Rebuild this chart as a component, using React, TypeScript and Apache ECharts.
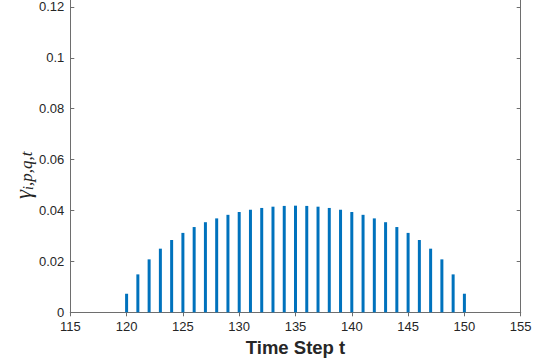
import React, { useEffect, useRef } from "react";
import * as echarts from "echarts";

const timeSteps = [120, 121, 122, 123, 124, 125, 126, 127, 128, 129, 130, 131, 132, 133, 134, 135, 136, 137, 138, 139, 140, 141, 142, 143, 144, 145, 146, 147, 148, 149, 150];
const gammaValues = [0.0073, 0.0149, 0.0208, 0.025, 0.0284, 0.0312, 0.0335, 0.0354, 0.0369, 0.0383, 0.0394, 0.0403, 0.041, 0.0415, 0.0418, 0.0419, 0.0418, 0.0415, 0.041, 0.0403, 0.0394, 0.0383, 0.0369, 0.0354, 0.0335, 0.0312, 0.0284, 0.025, 0.0208, 0.0149, 0.0073];
const xTicks = { min: 115, max: 155, step: 5 };
const yTicks = { min: 0, max: 0.1233, step: 0.02 };
const xLabel = "Time Step t";

const LINE = "#6e6e6e";
const TEXT = "#262626";
const FONT = "'Liberation Sans', Arial, Helvetica, sans-serif";
const SERIF = "'Liberation Serif', 'DejaVu Serif', serif";

export default function App() {
  const ref = useRef<HTMLDivElement>(null);
  useEffect(() => {
    if (!ref.current) return;
    const chart = echarts.init(ref.current, null, { renderer: "svg" });
    const yFmt = (v: number) => {
      const k = Math.round(v / yTicks.step);
      if (Math.abs(k * yTicks.step - v) > 1e-9) return "";
      return String(parseFloat((k * yTicks.step).toFixed(2)));
    };
    const common = {
      axisLine: { show: true, lineStyle: { color: LINE, width: 1 } },
      axisTick: { show: true, inside: true, length: 4, lineStyle: { color: LINE, width: 1 } },
      splitLine: { show: false },
    };
    chart.setOption({
      animation: false,
      backgroundColor: "#ffffff",
      grid: { left: 70.3, right: 16.3, top: -1.5, bottom: 51.7, outerBoundsMode: "none", containLabel: false },
      xAxis: [
        {
          type: "value",
          min: xTicks.min,
          max: xTicks.max,
          interval: xTicks.step,
          position: "bottom",
          ...common,
          axisLabel: { color: TEXT, fontSize: 13, fontFamily: FONT, margin: 8 },
          name: xLabel,
          nameLocation: "middle",
          nameGap: 24,
          nameTextStyle: { color: TEXT, fontSize: 18.5, fontWeight: "bold", fontFamily: FONT },
        },
        {
          type: "value",
          min: xTicks.min,
          max: xTicks.max,
          interval: xTicks.step,
          position: "top",
          ...common,
          axisLabel: { show: false },
        },
      ],
      yAxis: [
        {
          type: "value",
          min: yTicks.min,
          max: yTicks.max,
          interval: yTicks.step,
          position: "left",
          ...common,
          axisLabel: { color: TEXT, fontSize: 13, fontFamily: FONT, margin: 6, formatter: yFmt, showMaxLabel: false },
        },
        {
          type: "value",
          min: yTicks.min,
          max: yTicks.max,
          interval: yTicks.step,
          position: "right",
          ...common,
          axisLabel: { show: false },
        },
      ],
      series: [
        {
          type: "bar",
          xAxisIndex: 0,
          yAxisIndex: 0,
          barWidth: 3,
          itemStyle: { color: "#0072BD" },
          data: timeSteps.map((t, i) => [t, gammaValues[i]]),
        },
      ],
      graphic: [
        {
          type: "group",
          x: 12,
          y: 199,
          rotation: Math.PI / 2,
          children: [
            {
              type: "text",
              x: 0,
              y: 0,
              style: {
                text: "{g|γ}{s|i}{n|,p,q,t}",
                fill: TEXT,
                verticalAlign: "top",
                align: "left",
                rich: {
                  g: { fontSize: 23, fontStyle: "italic", fontFamily: SERIF, fill: TEXT, verticalAlign: "bottom" },
                  s: { fontSize: 14, fontStyle: "italic", fontFamily: SERIF, fill: TEXT, padding: [4, 0, 0, 0], verticalAlign: "bottom" },
                  n: { fontSize: 17, fontStyle: "italic", fontFamily: SERIF, fill: TEXT, padding: [2, 0, 0, 0], verticalAlign: "bottom" },
                },
              },
            },
          ],
        },
      ],
    });
    return () => chart.dispose();
  }, []);
  return <div ref={ref} style={{ width: 537, height: 364, position: "absolute", left: 0, top: 0 }} />;
}
